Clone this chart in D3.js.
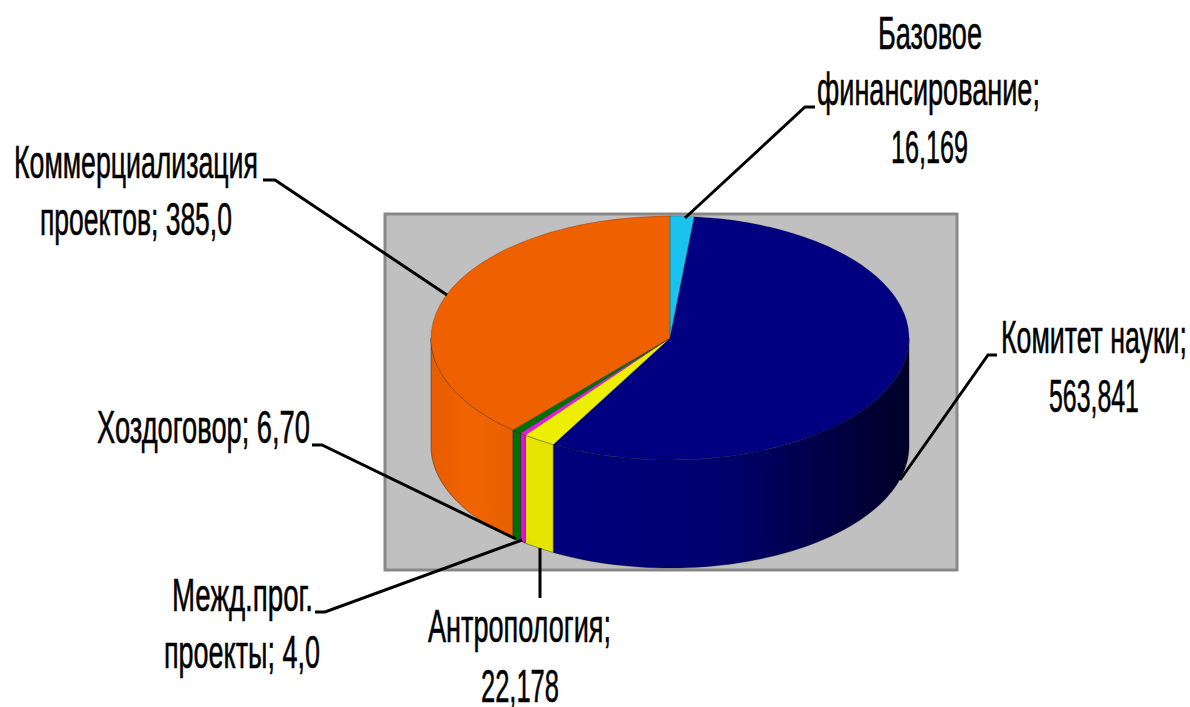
<!DOCTYPE html>
<html><head><meta charset="utf-8">
<script src="https://cdn.jsdelivr.net/npm/d3@7/dist/d3.min.js"></script>
<style>html,body{margin:0;padding:0;background:#fff;overflow:hidden}svg{display:block}
text{font-family:"Liberation Sans",Arial,sans-serif;font-size:47px;fill:#000;stroke:#000;stroke-width:.6px}</style>
</head><body><svg id="c" width="1190" height="707"></svg>
<script>
const categories = ["Базовое финансирование","Комитет науки","Антропология","Межд.прог. проекты","Хоздоговор","Коммерциализация проектов"];
const values = [16.169,563.841,22.178,4.0,6.7,385.0];
const valueLabels = ["16,169","563,841","22,178","4,0","6,70","385,0"];
const topColors = ["#19c3ee","#000080","#eeee00","#ee14ee","#007000","#ee6000"];
const wallColors = ["#19c3ee","#000080","#e4e400","#e010e0","#007000","#ee6000"];

// layout
const W=1190,H=707, cx=670, cy=338, rx=239, ry=122, depth=108;
const plot={x:385,y:214,w:572,h:356};
const labels=[
 {i:0,lines:[["Базовое",878,49,104],["финансирование;",817,105,223],["16,169",891,163,77]],
  leader:[[685,218],[805,107],[815,107]]},
 {i:1,lines:[["Комитет науки;",1001,353,186],["563,841",1049,412,90]],
  leader:[[900,480],[988,355],[997,355]]},
 {i:2,lines:[["Антропология;",428,642,183],["22,178",481,702,78]],
  leader:[[540,548],[540,598]]},
 {i:3,lines:[["Межд.прог.",172,611,141],["проекты; 4,0",164,668,156]],
  leader:[[522,540],[325,612],[315,612]]},
 {i:4,lines:[["Хоздоговор; 6,70",97,443,213]],
  leader:[[516,539],[322,445],[312,445]]},
 {i:5,lines:[["Коммерциализация",14,178,244],["проектов; 385,0",40,235,192]],
  leader:[[447,295],[275,180],[263,180]]}
];

const svg=d3.select("#c");
svg.append("rect").attr("width",W).attr("height",H).attr("fill","#fff");
svg.append("rect").attr("x",plot.x).attr("y",plot.y).attr("width",plot.w).attr("height",plot.h)
  .attr("fill","#c0c0c0").attr("stroke","#888888").attr("stroke-width",3);

const arcs=d3.pie().sort(null).value(d=>d)(values);
const px=a=>cx+rx*Math.sin(a), py=a=>cy-ry*Math.cos(a);

const defs=svg.append("defs");
const xGrad=(id,x0,x1,stops)=>{
  const g=defs.append("linearGradient").attr("id",id).attr("gradientUnits","userSpaceOnUse")
    .attr("x1",x0).attr("x2",x1).attr("y1",0).attr("y2",0);
  stops.forEach(([o,c])=>g.append("stop").attr("offset",o).attr("stop-color",c));
};
xGrad("wall1",553,909,[[0,"#00007c"],[.45,"#000070"],[.75,"#000048"],[1,"#000028"]]);
xGrad("wall5",431,513,[[0,"#e85c00"],[.5,"#f06400"],[1,"#e86000"]]);

// walls: only the part of each slice facing the viewer
const walls=svg.append("g");
const wallPath=(a0,a1)=>{
  const s=Math.max(a0,Math.PI/2), e=Math.min(a1,3*Math.PI/2);
  if(e<=s) return null;
  const n=60, t=d3.range(n+1).map(k=>s+(e-s)*k/n);
  const pts=[...t.map(a=>[px(a),py(a)]),...t.slice().reverse().map(a=>[px(a),py(a)+depth])];
  return d3.line()(pts)+"Z";
};
arcs.forEach((d,i)=>{
  const p=wallPath(d.startAngle,d.endAngle);
  if(!p) return;
  walls.append("path").attr("d",p)
    .attr("fill",i===1?"url(#wall1)":i===5?"url(#wall5)":wallColors[i])
    .attr("stroke","#000").attr("stroke-opacity",.45).attr("stroke-width",.8);
});

// top face
const arc=d3.arc().innerRadius(0).outerRadius(rx);
const topFace=svg.append("g").attr("transform",`translate(${cx},${cy}) scale(1,${ry/rx})`);
topFace.selectAll("path").data(arcs).join("path").attr("d",arc)
  .attr("fill",(d,i)=>topColors[i])
  .attr("stroke","#000").attr("stroke-opacity",.35).attr("stroke-width",.7);

// leaders and labels
const ln=d3.line();
const gL=svg.append("g");
labels.forEach(l=>{
  gL.append("path").attr("d",ln(l.leader)).attr("fill","none").attr("stroke","#000").attr("stroke-width",3);
  l.lines.forEach(([t,x,y,w])=>{
    const tx=gL.append("text").text(t);
    const natural=tx.node().getComputedTextLength();
    tx.attr("transform",`translate(${x},${y}) scale(${w/natural},1)`);
  });
});
</script></body></html>
